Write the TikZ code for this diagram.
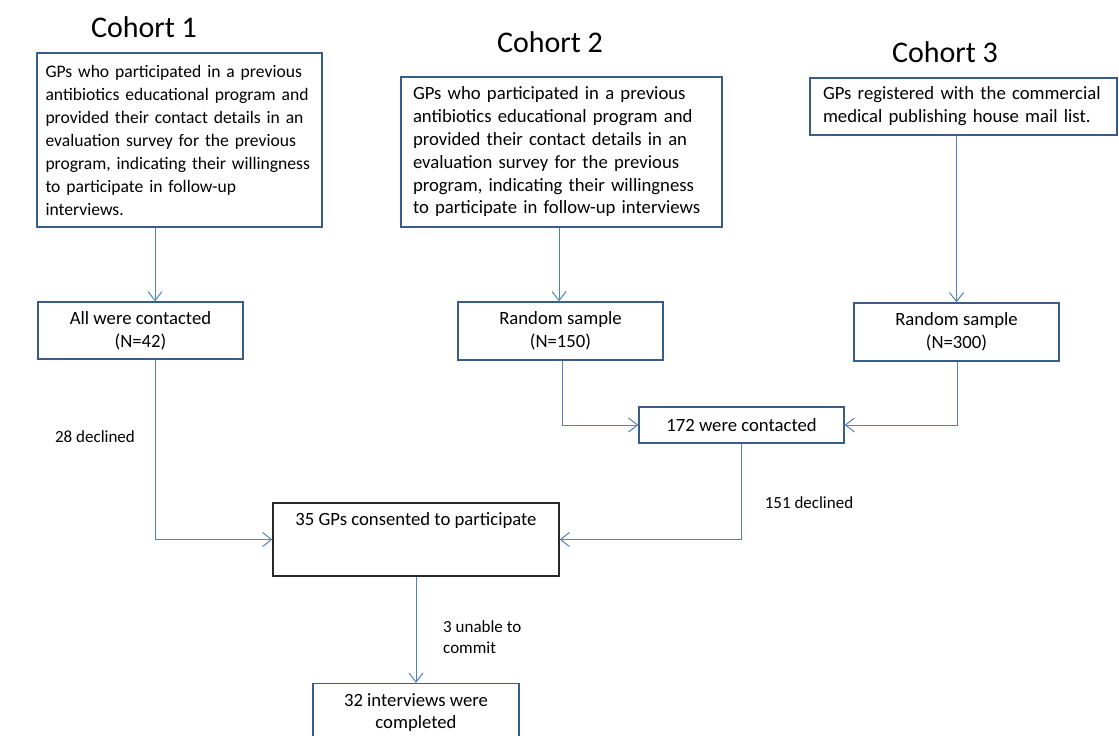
\documentclass[tikz,border=0pt]{standalone}
\usepackage{fontspec}
\setmainfont{Carlito}
\usetikzlibrary{arrows.meta}
\definecolor{boxblue}{RGB}{56,93,138}
\definecolor{lineblue}{RGB}{79,129,189}
\definecolor{boxgray}{RGB}{40,40,40}

\begin{document}
\begin{tikzpicture}[x=1pt,y=-1pt,
	box/.style={draw=boxblue, line width=1.3pt, inner ysep=0pt, inner xsep=4pt,
		font=\fontsize{18.7}{22.8}\selectfont, align=center},
	leftbox/.style={box, align=left, inner xsep=10pt},
	title/.style={font=\fontsize{30}{36}\selectfont},
	note/.style={font=\fontsize{17}{20.5}\selectfont, align=left},
	arr/.style={draw=lineblue, line width=1pt, -{Straight Barb[length=9pt,width=14pt]}}]
	\useasboundingbox (0,0) rectangle (1119,736);
	\clip (0,0) rectangle (1119,736);
	
	% cohort titles
	\node[title] (t1) at (144,27) {Cohort 1};
	\node[title] (t2) at (550,42) {Cohort 2};
	\node[title] (t3) at (945,52) {Cohort 3};
	
	% source boxes
	\node[leftbox, text width=268pt, inner xsep=8.5pt, minimum height=174pt,
	font=\fontsize{17.6}{23}\selectfont] (src1) at (179.5,140)
	{GPs who participated in a previous\\antibiotics educational program and\\provided their contact details in an\\evaluation survey for the previous\\program, indicating their willingness\\to participate in follow-up\\interviews.};
	\node[leftbox, text width=297pt, inner xsep=12pt, minimum height=150pt] (src2) at (561.5,152)
	{GPs who participated in a previous\\antibiotics educational program and\\provided their contact details in an\\evaluation survey for the previous\\program, indicating their willingness\\to participate in follow-up interviews};
	\node[leftbox, text width=281pt, inner xsep=13pt, minimum height=57pt] (src3) at (963.5,106.5)
	{GPs registered with the commercial\\medical publishing house mail list.};
	
	% samples
	\node[box, minimum width=205pt, minimum height=57pt] (all) at (140.5,330.5) {All were contacted\\(N=42)};
	\node[box, minimum width=205pt, minimum height=58pt] (rand2) at (560.5,331) {Random sample\\(N=150)};
	\node[box, minimum width=205pt, minimum height=58pt] (rand3) at (956.5,332) {Random sample\\(N=300)};
	\node[box, minimum width=205pt, minimum height=36pt] (contacted) at (741.5,425) {172 were contacted};
	
	% outcome
	\node[box, draw=boxgray, minimum width=286pt, minimum height=73pt,
	label={[anchor=center, yshift=-18pt, font=\fontsize{18.7}{22.8}\selectfont]north:35 GPs consented to participate}] (consent) at (416,539.5) {};
	\node[box, minimum width=206pt, minimum height=58pt] (done) at (416,712.5) {32 interviews were\\completed};
	
	% arrows
	\draw[arr] (155,0 |- src1.south) -- (155,0 |- all.north);
	\draw[arr] (559,0 |- src2.south) -- (559,0 |- rand2.north);
	\draw[arr] (rand3.north |- src3.south) -- (rand3.north);
	\draw[arr] (155,0 |- all.south) |- (consent.west);
	\draw[arr] (562,0 |- rand2.south) |- (contacted.west);
	\draw[arr] (957,0 |- rand3.south) |- (contacted.east);
	\draw[arr] (contacted.south) |- (consent.east);
	\draw[arr] (consent.south) -- (done.north);
	
	% declined
	\node[note] (dec1) at (95,437) {28 declined};
	\node[note] (dec2) at (809,503) {151 declined};
	\node[note, anchor=west, inner sep=0pt] (dec3) at (443,637) {3 unable to\\commit};
\end{tikzpicture}
\end{document}
